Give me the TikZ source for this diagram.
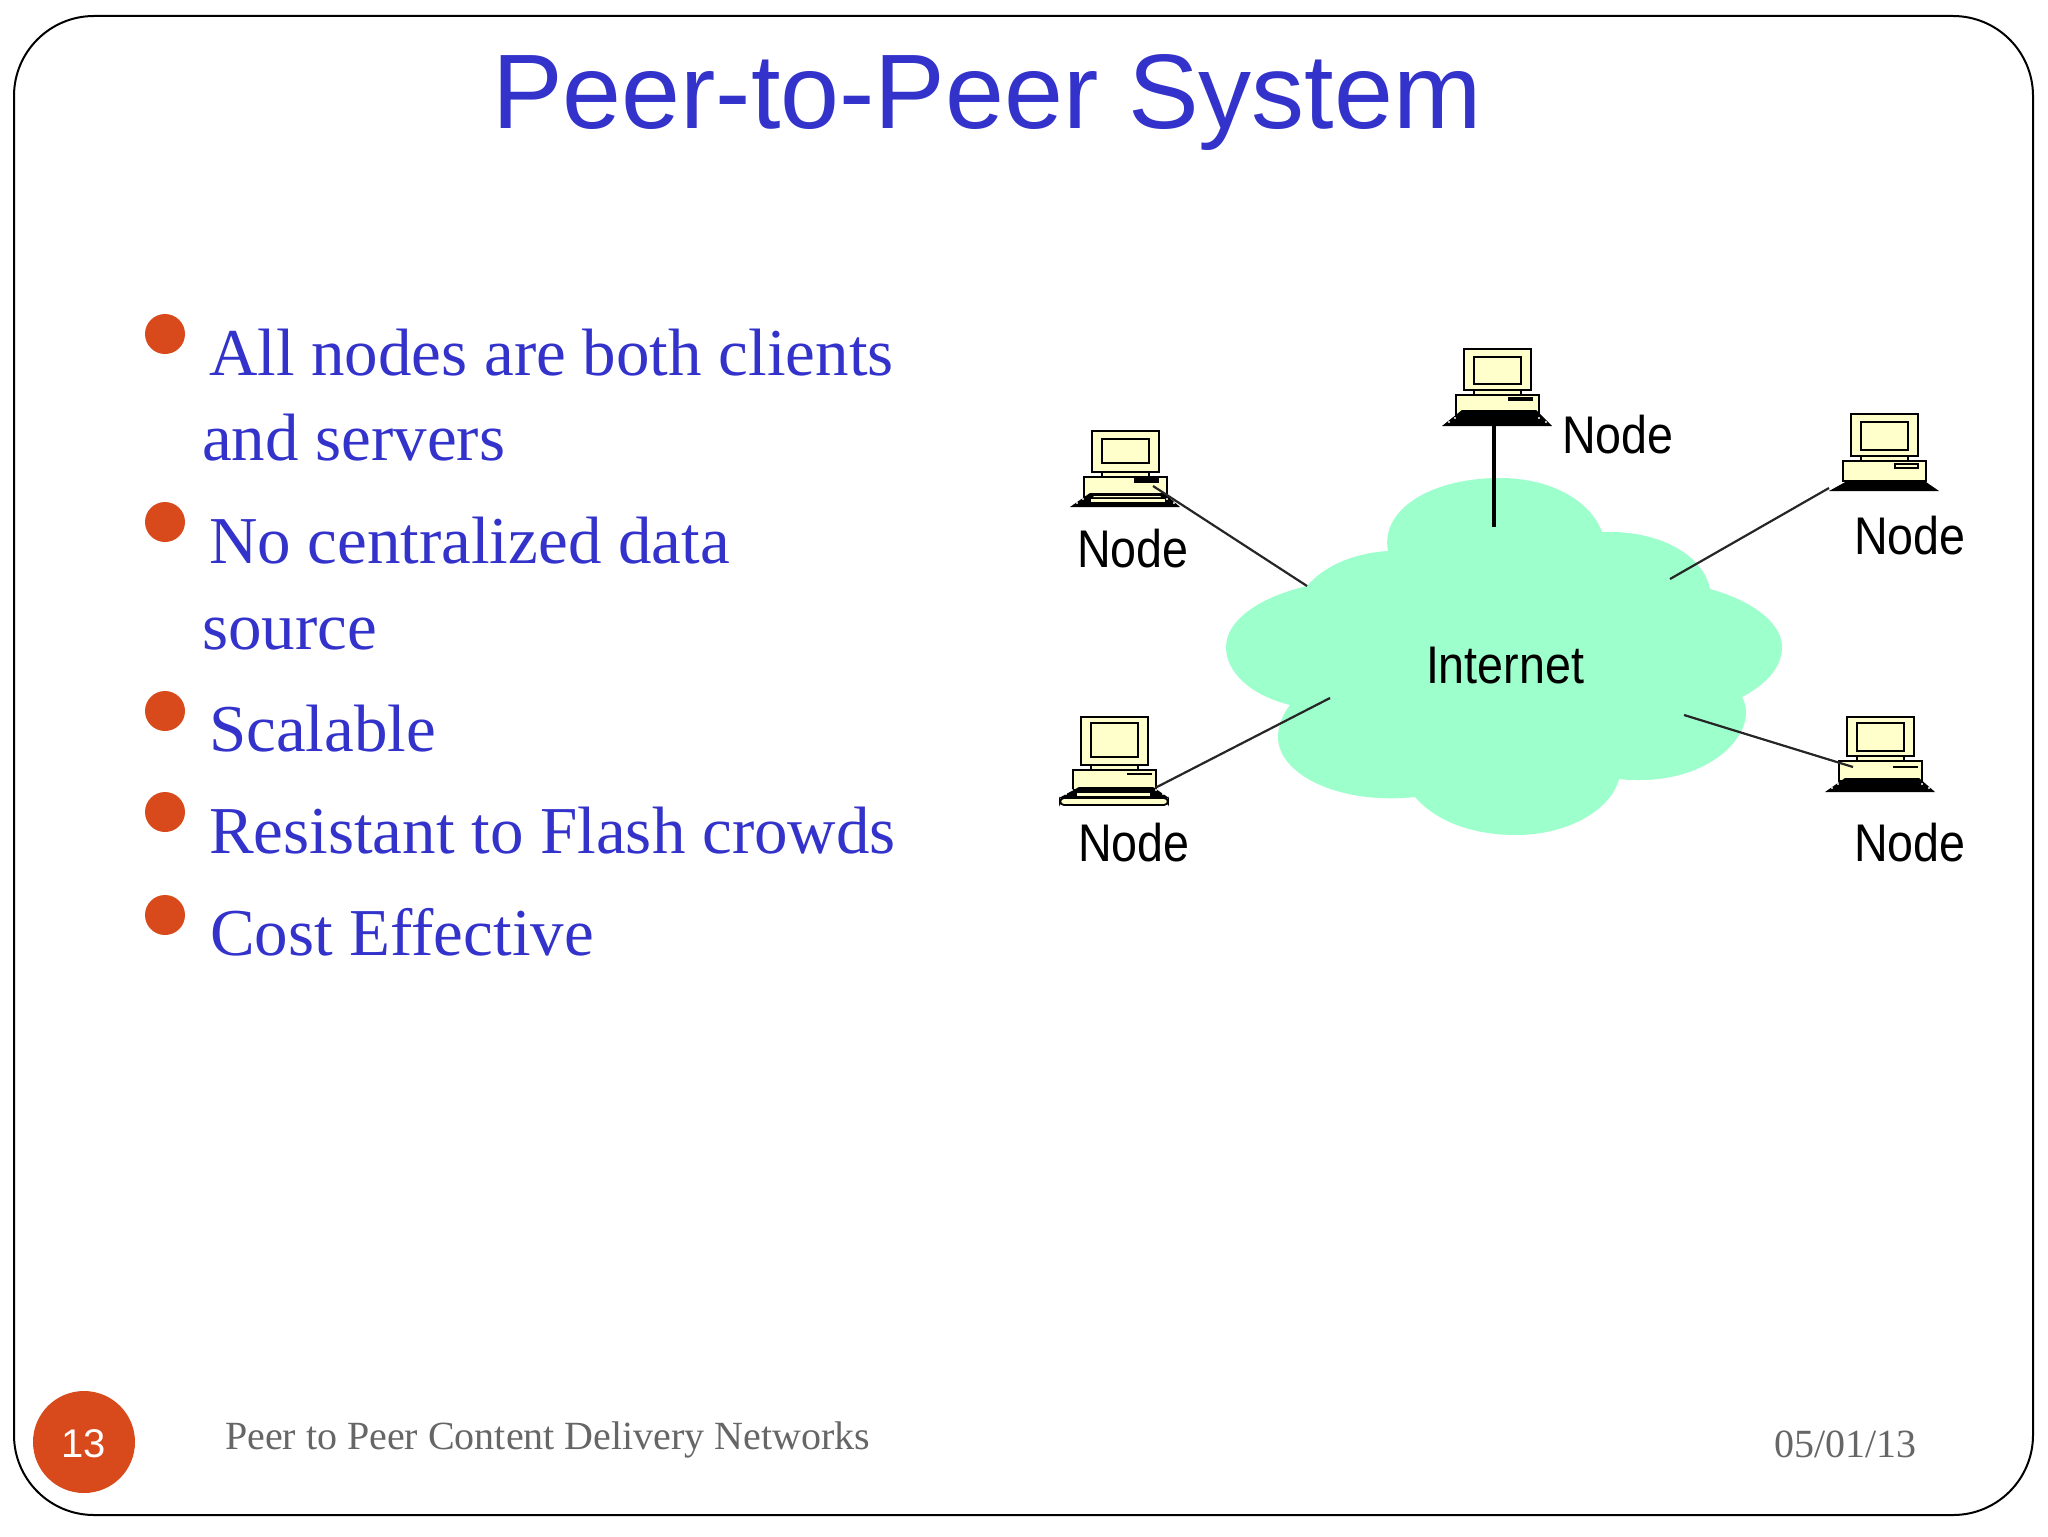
\documentclass[tikz,border=0pt]{standalone}
\usepackage{fontspec}
\setmainfont{Liberation Serif}
\newfontfamily\arialf{Liberation Sans}
\newfontfamily\tahf[FakeStretch=0.88]{Liberation Sans}
\definecolor{txtblue}{HTML}{3333CC}
\definecolor{rust}{HTML}{D84A1B}
\definecolor{cloudc}{HTML}{9CFFCC}
\definecolor{beige}{HTML}{FFFFCC}
\definecolor{footg}{HTML}{666666}
\tikzset{
  lbl/.style={anchor=base west,inner sep=0pt,outer sep=0pt},
  title/.style={lbl,text=txtblue,font=\arialf\fontsize{53}{60}\selectfont},
  body/.style={lbl,text=txtblue,font=\fontsize{33.5}{40}\selectfont},
  nodel/.style={lbl,text=black,font=\tahf\fontsize{26.5}{30}\selectfont},
  foot/.style={lbl,text=footg,font=\fontsize{20}{24}\selectfont},
  bullet/.style={circle,fill=rust,draw=none,minimum size=20pt,inner sep=0pt},
  link/.style={draw=black!85,line width=1.1pt},
  part/.style={draw=black,line width=0.9pt,fill=beige},
}
% #1 x of monitor, #2 y of monitor bottom, #3 monitor height, #4 screen top inset, #5 screen bottom inset
\newcommand{\compbody}[5]{%
  \draw[part] (#1-8,#2+5) rectangle (#1+75,#2+25);
  \draw[part] (#1+10,#2) rectangle (#1+57,#2+5);
  \draw[part] (#1,#2-#3) rectangle (#1+67,#2);
  \draw[part] (#1+10,#2-#3+#4) rectangle (#1+57,#2-#5);
}
% #1 x, #2 y, #3 top rel, #4 bottom rel
\newcommand{\kbd}[4]{%
  \fill[black] (#1-2,#2+#3) -- (#1+72,#2+#3) -- (#1+88,#2+#4) -- (#1-22,#2+#4) -- cycle;
}
\newcommand{\kbdots}[3]{%
  \fill[white] (#1-15,#2+#3-4) circle (1.1) (#1-9,#2+#3-8) circle (1.1) (#1+75,#2+#3-8) circle (1.1) (#1+82,#2+#3-4) circle (1.1);
}
\begin{document}
\begin{tikzpicture}[x=0.5pt,y=-0.5pt]
\useasboundingbox (0,0) rectangle (2048,1536);
\fill[white] (0,0) rectangle (2048,1536);
\draw[black,line width=1pt,rounded corners=40pt] (14,16) rectangle (2033,1515) ;
\node[title] (ttl) at (492,128) {Peer-to-Peer System};

% bullets
\node[bullet] (b1) at (165,334) {};
\node[bullet] (b2) at (165,522) {};
\node[bullet] (b3) at (165,711) {};
\node[bullet] (b4) at (165,812) {};
\node[bullet] (b5) at (165,915) {};
\node[body] (t1) at (209,375) {All nodes are both clients};
\node[body] (t1b) at (202,460) {and servers};
\node[body] (t2) at (209,563) {No centralized data};
\node[body] (t2b) at (202,649) {source};
\node[body] (t3) at (209,751) {Scalable};
\node[body] (t4) at (209,853) {Resistant to Flash crowds};
\node[body] (t5) at (210,955) {Cost Effective};

% cloud
\fill[cloudc] (1388,551) .. controls (1380,510) and (1430,478) .. (1500,478)
  .. controls (1550,478) and (1590,500) .. (1602,532)
  .. controls (1660,530) and (1703,555) .. (1710,589)
  .. controls (1750,600) and (1782,622) .. (1782,647)
  .. controls (1782,668) and (1765,685) .. (1742,697)
  .. controls (1760,730) and (1715,780) .. (1640,780)
  .. controls (1632,780) and (1625,780) .. (1619,779)
  .. controls (1610,812) and (1565,835) .. (1516,835)
  .. controls (1470,835) and (1435,820) .. (1415,797)
  .. controls (1340,805) and (1278,775) .. (1278,737)
  .. controls (1278,725) and (1283,714) .. (1290,705)
  .. controls (1250,695) and (1226,672) .. (1226,647)
  .. controls (1226,620) and (1260,597) .. (1307,586)
  .. controls (1325,565) and (1355,553) .. (1388,551) -- cycle;
\node[nodel] (inet) at (1426,683) {Internet};

% computer, top left
\compbody{1092}{472}{41}{8}{9}
\kbd{1092}{472}{21}{35}
\fill[black] (1134,478) rectangle (1159,483);
\fill[beige] (1094,496) -- (1160,496) -- (1161,497) -- (1093,497) -- cycle;
\fill[beige] (1091,499) rectangle (1165,502);
\kbdots{1092}{472}{35}
% computer, top
\compbody{1464}{390}{41}{8}{6}
\kbd{1464}{390}{20}{36}
\fill[black] (1508,397) rectangle (1533,401);
\kbdots{1464}{390}{36}
% computer, top right
\compbody{1851}{456}{42}{8}{6}
\kbd{1851}{456}{24}{35}
\draw[black,line width=0.9pt,fill=beige] (1895,464) rectangle (1918,468);
\fill[beige] (1853,477) rectangle (1917,479.5);
% computer, bottom left
\compbody{1081}{765}{48}{6}{8}
\kbd{1081}{765}{22}{33}
\fill[black] (1127,773) rectangle (1152,775);
\draw[black,line width=0.9pt,fill=beige,rounded corners=2pt] (1060,798) rectangle (1168,805);
\fill[beige] (1077,793) rectangle (1150,796);
\kbdots{1081}{765}{33}
% computer, bottom right
\compbody{1847}{756}{39}{6}{5}
\kbd{1847}{756}{22}{36}
\fill[black] (1893,766) rectangle (1918,768);
\fill[beige] (1849,775) rectangle (1913,777.5);
\kbdots{1847}{756}{36}

% node labels
\node[nodel] (ntl) at (1077,567) {Node};
\node[nodel] (nt) at (1562,453) {Node};
\node[nodel] (ntr) at (1854,554) {Node};
\node[nodel] (nbl) at (1078,861) {Node};
\node[nodel] (nbr) at (1854,861) {Node};

% connector ends
\coordinate (pctl) at (1153,486);
\coordinate (pct) at (1494,426);
\coordinate (pctr) at (1829,488);
\coordinate (pcbl) at (1155,788);
\coordinate (pcbr) at (1853,767);
\coordinate (ctl) at (1307,586);
\coordinate (ct) at (1494,527);
\coordinate (ctr) at (1670,579);
\coordinate (cbl) at (1330,698);
\coordinate (cbr) at (1684,715);
\draw[link] (pctl) -- (ctl);
\draw[link,line width=2pt,draw=black] (pct) -- (ct);
\draw[link] (pctr) -- (ctr);
\draw[link] (pcbl) -- (cbl);
\draw[link] (pcbr) -- (cbr);

% footer
\node[circle,fill=rust,minimum size=51pt,inner sep=0pt] (pg) at (84,1442) {};
\node[text=white,font=\arialf\fontsize{20}{24}\selectfont,inner sep=0pt] (pgn) at (84,1444) {13};
\node[foot] (ft) at (225,1449) {Peer to Peer Content Delivery Networks};
\node[foot] (dt) at (1774,1457) {05/01/13};
\end{tikzpicture}
\end{document}
